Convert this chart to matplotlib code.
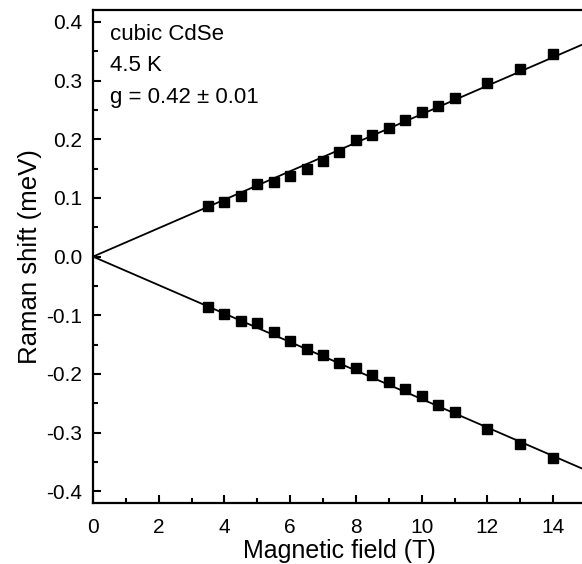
import matplotlib
matplotlib.use("Agg")
import matplotlib.pyplot as plt
from matplotlib.ticker import MultipleLocator

plt.rcParams['font.family'] = ['Liberation Sans', 'DejaVu Sans']

# measured points (magnetic field in T, Raman shift in meV)
field = [3.5, 4, 4.5, 5, 5.5, 6, 6.5, 7, 7.5, 8, 8.5, 9, 9.5, 10, 10.5, 11, 12, 13, 14]
shift_up = [0.086, 0.093, 0.104, 0.124, 0.128, 0.138, 0.149, 0.163, 0.178, 0.198,
            0.208, 0.220, 0.233, 0.246, 0.257, 0.270, 0.296, 0.319, 0.346]
shift_down = [-0.086, -0.097, -0.109, -0.113, -0.129, -0.143, -0.157, -0.168, -0.182, -0.189,
              -0.202, -0.214, -0.226, -0.238, -0.253, -0.265, -0.293, -0.319, -0.344]

# linear fits through the origin
fit_x = [0, 15]
fit_up = [0, 0.364]
fit_down = [0, -0.364]

fig = plt.figure(figsize=(5.82, 5.64), dpi=100)
ax = fig.add_axes([0.1598, 0.108, 0.847, 0.874])

ax.plot(fit_x, fit_up, color='black', lw=1.3)
ax.plot(fit_x, fit_down, color='black', lw=1.3)
ax.plot(field, shift_up, 's', color='black', ms=7.3)
ax.plot(field, shift_down, 's', color='black', ms=7.3)

ax.set_xlim(0, 15)
ax.set_ylim(-0.42, 0.42)
ax.xaxis.set_major_locator(MultipleLocator(2))
ax.xaxis.set_minor_locator(MultipleLocator(1))
ax.yaxis.set_major_locator(MultipleLocator(0.1))
ax.yaxis.set_minor_locator(MultipleLocator(0.05))
ax.yaxis.set_major_formatter(plt.FuncFormatter(lambda v, p: f"{v:.1f}" if abs(v) > 1e-9 else "0.0"))

ax.tick_params(which='both', direction='in', width=1.5, labelsize=15)
ax.tick_params(which='major', length=6)
ax.tick_params(which='minor', length=3.5)
ax.tick_params(axis='x', pad=11)
ax.tick_params(axis='y', pad=8)
ax.tick_params(top=False, right=False)
for s in ax.spines.values():
    s.set_linewidth(1.6)

ax.set_xlabel('Magnetic field (T)', fontsize=18, labelpad=1)
ax.set_ylabel('Raman shift (meV)', fontsize=18.5, labelpad=3)

ax.text(0.52, 0.3697, 'cubic CdSe', fontsize=16, va='baseline')
ax.text(0.52, 0.3157, '4.5 K', fontsize=16, va='baseline')
ax.text(0.52, 0.2624, 'g = 0.42 ± 0.01', fontsize=16, va='baseline')

fig.savefig('out.png', dpi=100)
